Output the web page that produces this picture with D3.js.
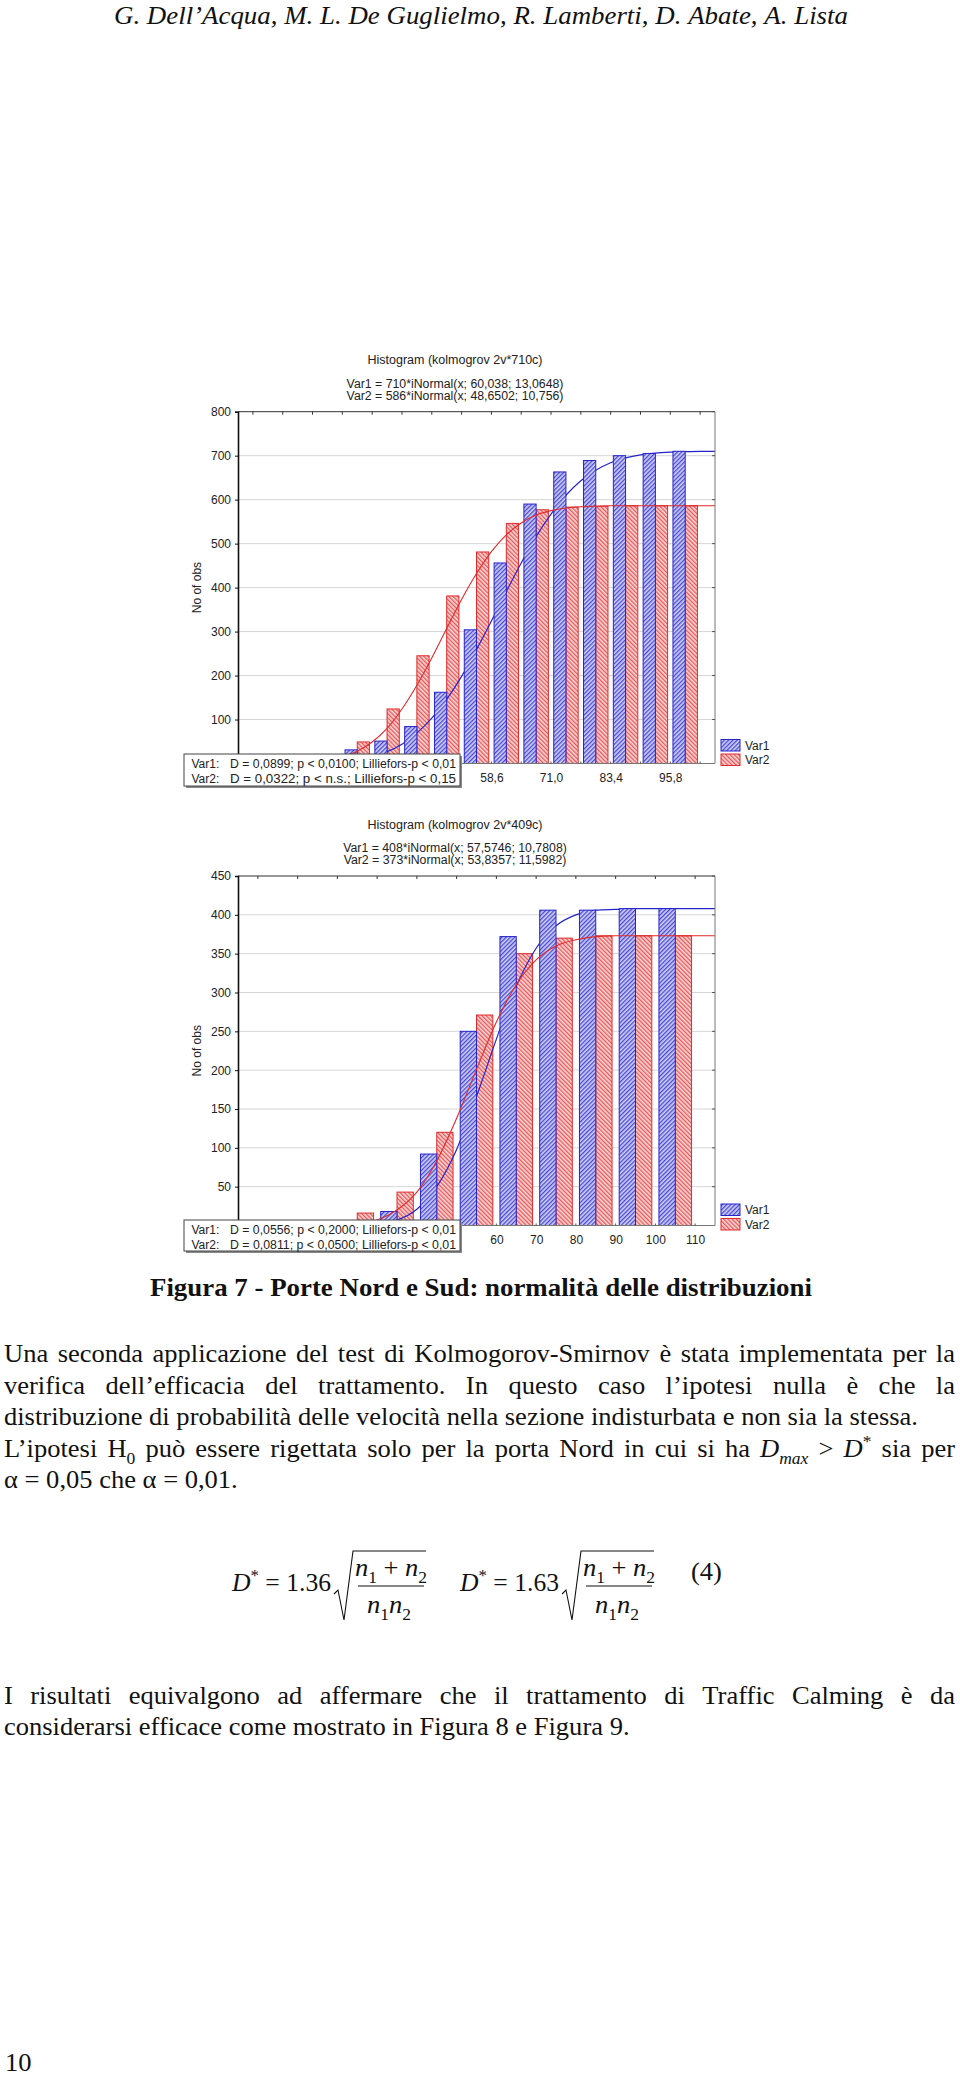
<!DOCTYPE html>
<html><head><meta charset="utf-8">
<script src="https://cdn.jsdelivr.net/npm/d3@7"></script>
<style>body{margin:0;background:#fff;} svg{display:block;}</style>
</head><body>
<svg id="page" width="960" height="2080"></svg>
<script>
// ---------------- DATA ----------------
const c1Bins = [30.7, 36.9, 43.1, 49.3, 55.5, 61.7, 67.9, 74.1, 80.3, 86.5, 92.7, 98.9];
const c1Var1 = [31, 51, 84, 162, 304, 456, 590, 663, 689, 700, 705, 710];
const c1Var2 = [49, 124, 245, 381, 481, 546, 577, 583, 585, 586, 586, 586];
const c1Ticks = [9.0, 15.2, 21.4, 27.6, 33.8, 40.0, 46.2, 52.4, 58.6, 64.8, 71.0, 77.2, 83.4, 89.6, 95.8, 102.0];
const c1LabelVals = [58.6, 71.0, 83.4, 95.8];
const c1Labels = ["58,6", "71,0", "83,4", "95,8"];
const c1YTicks = [100, 200, 300, 400, 500, 600, 700, 800];
const c1CurveX = [5.9, 15.2, 21.4, 24.5, 27.6, 30.7, 33.8, 36.9, 40.0, 43.1, 46.2, 49.3, 52.4, 55.5, 58.6, 61.7, 64.8, 67.9, 71.0, 74.1, 77.2, 80.3, 83.4, 86.5, 89.6, 92.7, 95.8, 98.9, 102.0, 105.1];
const c1Curve1 = [0, 0, 1, 2, 5, 9, 16, 27, 44, 69, 103, 146, 198, 259, 324, 391, 456, 516, 567, 610, 643, 667, 684, 695, 702, 706, 708, 709, 710, 710];
const c1Curve2 = [0, 0.5, 3, 7, 15, 28, 49, 80, 124, 178, 240, 307, 373, 432, 482, 520, 547, 565, 575, 581, 584, 585, 586, 586, 586, 586, 586, 586, 586, 586];
const c1Title = "Histogram (kolmogrov 2v*710c)";
const c1Formula = ["Var1 = 710*iNormal(x; 60,038; 13,0648)", "Var2 = 586*iNormal(x; 48,6502; 10,756)"];
const c1Stats = [["Var1:", "D = 0,0899; p < 0,0100; Lilliefors-p < 0,01"], ["Var2:", "D = 0,0322; p < n.s.; Lilliefors-p < 0,15"]];

const c2Bins = [25, 35, 45, 55, 65, 75, 85, 95, 105];
const c2Var1 = [2, 18, 92, 250, 372, 406, 406, 408, 408];
const c2Var2 = [16, 43, 120, 271, 350, 370, 373, 373, 373];
const c2Ticks = [0, 10, 20, 30, 40, 50, 60, 70, 80, 90, 100, 110];
const c2LabelVals = [60, 70, 80, 90, 100, 110];
const c2Labels = ["60", "70", "80", "90", "100", "110"];
const c2YTicks = [50, 100, 150, 200, 250, 300, 350, 400, 450];
const c2CurveX = [-5, 15, 20, 25, 30, 35, 40, 45, 50, 55, 60, 65, 70, 75, 80, 85, 90, 95, 100, 105, 110, 115];
const c2Curve1 = [0, 0, 0, 0.5, 2, 7, 21, 50, 98, 166, 240, 308, 357, 386, 400, 406, 407, 408, 408, 408, 408, 408];
const c2Curve2 = [0, 0, 1, 2, 7, 20, 43, 83, 138, 201, 262, 310, 342, 360, 368, 372, 373, 373, 373, 373, 373, 373];
const c2Title = "Histogram (kolmogrov 2v*409c)";
const c2Formula = ["Var1 = 408*iNormal(x; 57,5746; 10,7808)", "Var2 = 373*iNormal(x; 53,8357; 11,5982)"];
const c2Stats = [["Var1:", "D = 0,0556; p < 0,2000; Lilliefors-p < 0,01"], ["Var2:", "D = 0,0811; p < 0,0500; Lilliefors-p < 0,01"]];

const seriesNames = ["Var1", "Var2"];

// ---------------- SETUP ----------------
const svg = d3.select("#page");
svg.append("rect").attr("width", 960).attr("height", 2080).attr("fill", "#fff");
const defs = svg.append("defs");
function hatch(id, bg, fg, angle) {
  const p = defs.append("pattern").attr("id", id).attr("patternUnits", "userSpaceOnUse")
    .attr("width", 3).attr("height", 3).attr("patternTransform", `rotate(${angle})`);
  p.append("rect").attr("width", 3).attr("height", 3).attr("fill", bg);
  p.append("rect").attr("width", 1.3).attr("height", 3).attr("fill", fg);
}
hatch("hBlue", "#d0d0f6", "#4848d4", 45);
hatch("hRed", "#fbd6d6", "#e45858", -45);
const colBlue = "#2424cc", colRed = "#e02a2a";
const sansFont = "'Liberation Sans', Arial, sans-serif";

function drawChart(cfg) {
  const g = svg.append("g");
  const x = d3.scaleLinear().domain(cfg.xDomain).range([cfg.left, cfg.right]);
  const y = d3.scaleLinear().domain([0, cfg.yMax]).range([cfg.bottom, cfg.top]);

  g.append("text").attr("x", cfg.titleX).attr("y", cfg.top - 47.5).attr("text-anchor", "middle")
    .attr("font-family", sansFont).attr("font-size", 12.5).attr("fill", "#222").text(cfg.title);
  cfg.formula.forEach((f, i) => {
    g.append("text").attr("x", cfg.titleX).attr("y", cfg.top - 24 + i * 12).attr("text-anchor", "middle")
      .attr("font-family", sansFont).attr("font-size", 12.3).attr("fill", "#222").text(f);
  });

  g.append("g").selectAll("line").data(cfg.yTicks.filter(v => v < cfg.yMax)).join("line")
    .attr("x1", cfg.left).attr("x2", cfg.right).attr("y1", d => y(d)).attr("y2", d => y(d))
    .attr("stroke", "#d6d6d6").attr("stroke-width", 1);

  const bw = cfg.binWidth * cfg.barFrac;
  const line = d3.line().x(d => x(d[0])).y(d => y(d[1])).curve(d3.curveMonotoneX);

  g.append("g").selectAll("rect").data(cfg.bins).join("rect")
    .attr("x", (d) => x(d)).attr("width", (d) => x(d + bw) - x(d))
    .attr("y", (d, i) => y(cfg.var2[i])).attr("height", (d, i) => y(0) - y(cfg.var2[i]))
    .attr("fill", "url(#hRed)").attr("stroke", colRed).attr("stroke-width", 1);
  g.append("path").datum(cfg.curveX.map((v, i) => [v, cfg.curve1[i]])).attr("d", line)
    .attr("fill", "none").attr("stroke", colBlue).attr("stroke-width", 1.2);
  g.append("g").selectAll("rect").data(cfg.bins).join("rect")
    .attr("x", (d) => x(d - bw)).attr("width", (d) => x(d) - x(d - bw))
    .attr("y", (d, i) => y(cfg.var1[i])).attr("height", (d, i) => y(0) - y(cfg.var1[i]))
    .attr("fill", "url(#hBlue)").attr("stroke", colBlue).attr("stroke-width", 1);
  g.append("path").datum(cfg.curveX.map((v, i) => [v, cfg.curve2[i]])).attr("d", line)
    .attr("fill", "none").attr("stroke", colRed).attr("stroke-width", 1.1);

  g.append("line").attr("x1", cfg.left).attr("x2", cfg.right).attr("y1", cfg.top).attr("y2", cfg.top).attr("stroke", "#333");
  g.append("line").attr("x1", cfg.right).attr("x2", cfg.right).attr("y1", cfg.top).attr("y2", cfg.bottom).attr("stroke", "#777");
  g.append("line").attr("x1", cfg.left).attr("x2", cfg.right).attr("y1", cfg.bottom).attr("y2", cfg.bottom).attr("stroke", "#777");
  g.append("g").selectAll("line").data(cfg.ticks).join("line")
    .attr("x1", d => x(d)).attr("x2", d => x(d)).attr("y1", cfg.top).attr("y2", cfg.top + 3).attr("stroke", "#333");
  g.append("g").selectAll("line").data(cfg.ticks).join("line")
    .attr("x1", d => x(d)).attr("x2", d => x(d)).attr("y1", cfg.bottom).attr("y2", cfg.bottom - 2).attr("stroke", "#555");
  g.append("g").selectAll("line").data(cfg.yTicks).join("line")
    .attr("x1", cfg.right).attr("x2", cfg.right - 3).attr("y1", d => y(d)).attr("y2", d => y(d)).attr("stroke", "#555");

  const yAxis = d3.axisLeft(y).tickValues(cfg.yTicks).tickSize(3).tickPadding(4).tickFormat(d3.format("d"));
  const ya = g.append("g").attr("transform", `translate(${cfg.left},0)`).call(yAxis);
  ya.select(".domain").attr("stroke", "#111").attr("stroke-width", 1.6);
  ya.selectAll("line").attr("stroke", "#111");
  ya.selectAll("text").attr("font-family", sansFont).attr("font-size", 12).attr("fill", "#222");

  const xAxis = d3.axisBottom(x).tickValues(cfg.labelVals).tickSize(0).tickPadding(10)
    .tickFormat((d, i) => cfg.labels[i]);
  const xa = g.append("g").attr("transform", `translate(0,${cfg.bottom})`).call(xAxis);
  xa.select(".domain").remove();
  xa.selectAll("text").attr("font-family", sansFont).attr("font-size", 12).attr("fill", "#222");

  g.append("text").attr("transform", `translate(${cfg.left - 37},${(cfg.top + cfg.bottom) / 2}) rotate(-90)`)
    .attr("text-anchor", "middle").attr("font-family", sansFont).attr("font-size", 12).attr("fill", "#222").text("No of obs");

  const lg = g.append("g");
  seriesNames.forEach((n, i) => {
    const ly = cfg.legendTop + i * 14.5;
    lg.append("rect").attr("x", 721).attr("y", ly).attr("width", 19).attr("height", 11.5)
      .attr("fill", i === 0 ? "url(#hBlue)" : "url(#hRed)").attr("stroke", i === 0 ? colBlue : colRed);
    lg.append("text").attr("x", 745).attr("y", ly + 10).attr("font-family", sansFont).attr("font-size", 12)
      .attr("fill", "#222").text(n);
  });

  const sb = g.append("g");
  sb.append("rect").attr("x", 186).attr("y", cfg.boxTop + 2).attr("width", 276).attr("height", cfg.boxH).attr("fill", "#888");
  sb.append("rect").attr("x", 184).attr("y", cfg.boxTop).attr("width", 276).attr("height", cfg.boxH)
    .attr("fill", "#fff").attr("stroke", "#444").attr("stroke-width", 1);
  cfg.stats.forEach((s, i) => {
    const by = cfg.boxTop + 13.5 + i * 15.5;
    sb.append("text").attr("x", 191.5).attr("y", by).attr("font-family", sansFont).attr("font-size", 12).attr("fill", "#222").text(s[0]);
    sb.append("text").attr("x", 230).attr("y", by).attr("font-family", sansFont).attr("font-size", 12).attr("fill", "#222")
      .attr("textLength", 226).attr("lengthAdjust", "spacingAndGlyphs").text(s[1]);
  });
}

drawChart({
  left: 238, right: 715, top: 411.7, bottom: 763.5, xDomain: [5.9, 105.1], yMax: 800,
  bins: c1Bins, var1: c1Var1, var2: c1Var2, binWidth: 6.2, barFrac: 0.41,
  ticks: c1Ticks, labelVals: c1LabelVals, labels: c1Labels, yTicks: c1YTicks,
  curveX: c1CurveX, curve1: c1Curve1, curve2: c1Curve2,
  title: c1Title, formula: c1Formula, stats: c1Stats, titleX: 455,
  legendTop: 739.5, boxTop: 754, boxH: 32
});
drawChart({
  left: 238, right: 715, top: 876, bottom: 1225.5, xDomain: [-5, 115], yMax: 450,
  bins: c2Bins, var1: c2Var1, var2: c2Var2, binWidth: 10, barFrac: 0.41,
  ticks: c2Ticks, labelVals: c2LabelVals, labels: c2Labels, yTicks: c2YTicks,
  curveX: c2CurveX, curve1: c2Curve1, curve2: c2Curve2,
  title: c2Title, formula: c2Formula, stats: c2Stats, titleX: 455,
  legendTop: 1204, boxTop: 1220, boxH: 31
});

// ---------------- BODY TEXT ----------------
const serif = "'Liberation Serif','Times New Roman',Times,serif";
const tg = svg.append("g");
function buildText(segs, size, opts) {
  const t = tg.append("text").attr("font-family", serif).attr("font-size", size).attr("fill", "#111");
  if (opts.bold) t.attr("font-weight", "bold");
  if (opts.italic) t.attr("font-style", "italic");
  let shift = 0;
  segs.forEach(s => {
    const ts = t.append("tspan").text(s.t);
    if (s.i) ts.attr("font-style", "italic");
    const target = s.sub ? size * 0.28 : s.sup ? -size * 0.38 : 0;
    if (target - shift !== 0) ts.attr("dy", target - shift);
    shift = target;
    if (s.sub || s.sup) ts.attr("font-size", size * 0.66);
  });
  return t;
}
function toSegs(w) { return typeof w === "string" ? [{ t: w }] : w; }
function layoutLine(words, x0, x1, yb, size, sx, justify, opts = {}) {
  const nodes = words.map(w => buildText(toSegs(w), size, opts));
  const widths = nodes.map(n => n.node().getComputedTextLength() * sx);
  const sum = d3.sum(widths);
  const gap = justify ? (x1 - x0 - sum) / (words.length - 1) : size * 0.25 * sx;
  let xx = x0;
  nodes.forEach((n, i) => { n.attr("transform", `translate(${xx},${yb}) scale(${sx},1)`); xx += widths[i] + gap; });
}
function naturalWidth(words, size, opts = {}) {
  const nodes = words.map(w => buildText(toSegs(w), size, opts));
  const w = d3.sum(nodes.map(n => n.node().getComputedTextLength())) + size * 0.25 * (words.length - 1);
  nodes.forEach(n => n.remove());
  return w;
}

const FS = 26;
const line1 = "Una seconda applicazione del test di Kolmogorov-Smirnov è stata implementata per la".split(" ");
const line2 = "verifica dell’efficacia del trattamento. In questo caso l’ipotesi nulla è che la".split(" ");
const line3 = "distribuzione di probabilità delle velocità nella sezione indisturbata e non sia la stessa.".split(" ");
const line4 = ["L’ipotesi", [{ t: "H" }, { t: "0", sub: true }], "può", "essere", "rigettata", "solo", "per", "la", "porta", "Nord", "in", "cui", "si", "ha",
  [{ t: "D", i: true }, { t: "max", i: true, sub: true }], ">", [{ t: "D", i: true }, { t: "*", sup: true }], "sia", "per"];
const line5 = "α = 0,05 che α = 0,01.".split(" ");
const line6 = "I risultati equivalgono ad affermare che il trattamento di Traffic Calming è da".split(" ");
const line7 = "considerarsi efficace come mostrato in Figura 8 e Figura 9.".split(" ");

const sx = (918 - 4) / naturalWidth(line3, FS);

const hdr = "G. Dell’Acqua, M. L. De Guglielmo, R. Lamberti, D. Abate, A. Lista".split(" ");
const sxH = (848 - 114) / naturalWidth(hdr, 25, { italic: true });
layoutLine(hdr, 114, 848, 24, 25, sxH, false, { italic: true });
const cap = "Figura 7 - Porte Nord e Sud: normalità delle distribuzioni".split(" ");
const sxC = (812 - 150) / naturalWidth(cap, 26, { bold: true });
layoutLine(cap, 150, 812, 1296, 26, sxC, false, { bold: true });

layoutLine(line1, 4, 955, 1362, FS, sx, true);
layoutLine(line2, 4, 955, 1393.5, FS, sx, true);
layoutLine(line3, 4, 918, 1425, FS, sx, false);
layoutLine(line4, 4, 955, 1456.5, FS, sx, true);
layoutLine(line5, 4, 247, 1488, FS, sx, false);
layoutLine(line6, 4, 955, 1704, FS, sx, true);
layoutLine(line7, 4, 638, 1735, FS, sx, false);

// equation (4)
[{ coef: "1.36", x0: 232, r0: 334 }, { coef: "1.63", x0: 460, r0: 562 }].forEach(e => {
  const t = buildText([{ t: "D", i: true }, { t: "*", sup: true }, { t: " = " + e.coef }], FS, {});
  const tw = t.node().getComputedTextLength();
  const esx = Math.min(sx, (e.r0 - 3 - e.x0) / tw);
  t.attr("transform", `translate(${e.x0},1591) scale(${esx},1)`);
  const r0 = e.r0;
  tg.append("path").attr("d", `M${r0},1594 L${r0 + 4},1590 L${r0 + 10},1620 L${r0 + 19},1551 H${r0 + 92}`)
    .attr("fill", "none").attr("stroke", "#111").attr("stroke-width", 1.1);
  tg.append("line").attr("x1", r0 + 24).attr("x2", r0 + 90).attr("y1", 1586).attr("y2", 1586).attr("stroke", "#111").attr("stroke-width", 1);
  const num = buildText([{ t: "n", i: true }, { t: "1", sub: true }, { t: " + " }, { t: "n", i: true }, { t: "2", sub: true }], FS, {});
  const nw = num.node().getComputedTextLength() * sx;
  num.attr("transform", `translate(${r0 + 57 - nw / 2},1576) scale(${sx},1)`);
  const den = buildText([{ t: "n", i: true }, { t: "1", sub: true }, { t: "n", i: true }, { t: "2", sub: true }], FS, {});
  const dw = den.node().getComputedTextLength() * sx;
  den.attr("transform", `translate(${r0 + 55 - dw / 2},1613) scale(${sx},1)`);
});
buildText([{ t: "(4)" }], FS, {}).attr("transform", `translate(691,1580) scale(${sx},1)`);
buildText([{ t: "10" }], FS, {}).attr("transform", `translate(5,2071) scale(${sx},1)`);
</script>
</body></html>
